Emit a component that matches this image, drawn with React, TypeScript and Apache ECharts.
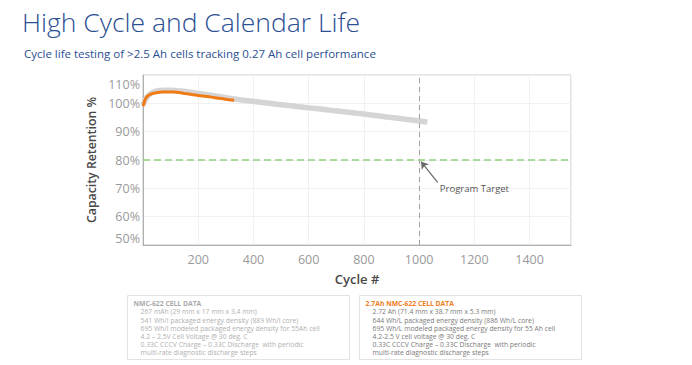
import React, { useEffect, useRef } from "react";
import * as echarts from "echarts";

const titleText = "High Cycle and Calendar Life";
const subtitleText = "Cycle life testing of >2.5 Ah cells tracking 0.27 Ah cell performance";

const grayCycles = [0, 10, 20, 30, 45, 60, 80, 100, 130, 160, 200, 250, 300, 350, 400, 450, 500, 550, 600, 650, 700, 750, 800, 850, 900, 950, 1000, 1030];
const grayValues = [99.5, 101.5, 102.8, 103.6, 104.2, 104.5, 104.6, 104.6, 104.4, 104.1, 103.5, 102.8, 102.0, 101.3, 100.7, 100.1, 99.5, 99.0, 98.4, 97.9, 97.3, 96.8, 96.2, 95.6, 95.0, 94.4, 93.8, 93.4];

const orangeCycles = [0, 5, 10, 20, 30, 40, 52, 70, 90, 110, 130, 150, 171, 200, 232, 260, 290, 310, 330];
const orangeValues = [99.0, 100.5, 101.8, 102.8, 103.3, 103.6, 103.8, 104.0, 104.0, 104.0, 103.8, 103.5, 103.2, 102.8, 102.4, 102.0, 101.6, 101.3, 101.1];

const targetCycle = 1000;
const targetRetention = 80;
const annotationText = "Program Target";

const box1Title = "NMC-622 CELL DATA";
const box1Lines = [
  "267 mAh (29 mm x 17 mm x 3.4 mm)",
  "541 Wh/l packaged energy density (889 Wh/l core)",
  "695 Wh/l modeled packaged energy density for 55Ah cell",
  "4.2 – 2.5V Cell Voltage @ 30 deg. C",
  "0.33C CCCV Charge – 0.33C Discharge  with periodic",
  "multi-rate diagnostic discharge steps",
];
const box2Title = "2.7Ah NMC-622 CELL DATA";
const box2Lines = [
  "2.72 Ah (71.4 mm x 38.7 mm x 5.3 mm)",
  "644 Wh/L packaged energy density (886 Wh/L core)",
  "695 Wh/L modeled packaged energy density for 55 Ah cell",
  "4.2-2.5 V cell voltage @ 30 deg. C",
  "0.33C CCCV Charge – 0.33C Discharge  with periodic",
  "multi-rate diagnostic discharge steps",
];

const FONT = "'Open Sans', sans-serif";

function boxGraphic(x: number, title: string, titleColor: string, lines: string[], lineColor: string) {
  const text = "{t|" + title + "}\n" + lines.map((l) => "{l|" + l + "}").join("\n");
  return {
    type: "group",
    left: x,
    top: 295,
    children: [
      {
        type: "rect",
        shape: { x: 0, y: 0, width: 222, height: 64 },
        style: { fill: "#fff", stroke: "#e2e2e2", lineWidth: 1 },
      },
      {
        type: "text",
        x: 6,
        y: 4,
        style: {
          text,
          fontFamily: FONT,
          rich: {
            t: { fontSize: 6.8, fontWeight: 700, fill: titleColor, lineHeight: 8.2, fontFamily: FONT },
            l: { fontSize: 6.8, fill: lineColor, lineHeight: 8.2, padding: [0, 0, 0, 7], fontFamily: FONT },
          },
        },
      },
    ],
  };
}

export default function App() {
  const ref = useRef<HTMLDivElement>(null);
  useEffect(() => {
    if (!ref.current) return;
    const chart = echarts.init(ref.current, undefined, { renderer: "svg" });
    const gray = grayCycles.map((c, i) => [c, grayValues[i]]);
    const orange = orangeCycles.map((c, i) => [c, orangeValues[i]]);
    chart.setOption({
      animation: false,
      backgroundColor: "#fff",
      title: [
        {
          text: titleText,
          left: 17,
          top: 3,
          textStyle: { fontFamily: FONT, fontSize: 26.5, fontWeight: 300, color: "#2b4f93" },
        },
        {
          text: subtitleText,
          left: 19,
          top: 42,
          textStyle: { fontFamily: FONT, fontSize: 11.5, fontWeight: 400, color: "#2b4f93" },
        },
      ],
      grid: {
        left: 143,
        right: 121,
        top: 75,
        bottom: 120,
        show: true,
        borderColor: "#c4c4c4",
        borderWidth: 1,
        backgroundColor: "#fff",
      },
      xAxis: {
        type: "value",
        min: 0,
        max: 1550,
        interval: 200,
        name: "Cycle #",
        nameLocation: "middle",
        nameGap: 27,
        nameTextStyle: { fontFamily: FONT, fontSize: 13, fontWeight: 600, color: "#484848" },
        axisLine: { show: true, lineStyle: { color: "#b0b0b0" } },
        axisTick: { show: false },
        splitLine: { show: true, lineStyle: { color: "#f1f1f1" } },
        axisLabel: {
          fontFamily: FONT,
          fontSize: 12.5,
          color: "#9a9a9a",
          margin: 8,
          showMinLabel: false,
          showMaxLabel: false,
          formatter: (v: number) => (v === 0 ? "" : String(v)),
        },
      },
      yAxis: {
        type: "value",
        min: 50,
        max: 110,
        interval: 10,
        name: "Capacity Retention %",
        nameLocation: "middle",
        nameGap: 40,
        nameTextStyle: { fontFamily: FONT, fontSize: 12.3, fontWeight: 600, color: "#484848" },
        axisLine: { show: true, lineStyle: { color: "#b0b0b0" } },
        axisTick: { show: false },
        splitLine: { show: true, lineStyle: { color: "#f1f1f1" } },
        axisLabel: {
          fontFamily: FONT,
          fontSize: 12.5,
          color: "#9a9a9a",
          margin: 3,
          formatter: (v: number) => (v === 110 ? "{t|110%}" : v === 50 ? "{b|50%}" : v + "%"),
          rich: {
            t: { fontFamily: FONT, fontSize: 12.5, color: "#9a9a9a", padding: [19, 0, 0, 0] },
            b: { fontFamily: FONT, fontSize: 12.5, color: "#9a9a9a", padding: [0, 0, 14, 0] },
          },
        },
      },
      series: [
        {
          type: "line",
          data: gray,
          showSymbol: false,
          smooth: true,
          lineStyle: { color: "#d5d5d5", width: 5.5 },
          z: 2,
          markLine: {
            silent: true,
            symbol: "none",
            label: { show: false },
            data: [
              { xAxis: targetCycle, lineStyle: { color: "#a0a0a0", type: [5, 4], width: 1 } },
              { yAxis: targetRetention, lineStyle: { color: "#8ed27e", type: [7, 4], width: 1.5 } },
            ],
          },
        },
        {
          type: "line",
          data: orange,
          showSymbol: false,
          smooth: true,
          lineStyle: { color: "#f07a16", width: 3 },
          z: 3,
          markLine: {
            silent: true,
            symbol: ["none", "arrow"],
            symbolSize: 7,
            label: { show: false },
            lineStyle: { color: "#666", type: "solid", width: 1.2 },
            data: [[{ coord: [1067, 72.1] }, { coord: [1007, 79.4] }]],
          },
          markPoint: {
            silent: true,
            symbol: "circle",
            symbolSize: 0,
            data: [
              {
                coord: [1075, 70],
                label: {
                  show: true,
                  position: "right",
                  distance: 0,
                  formatter: annotationText,
                  fontFamily: FONT,
                  fontSize: 9.5,
                  color: "#555",
                },
              },
            ],
          },
        },
      ],
      graphic: [
        boxGraphic(127, box1Title, "#a9a9a9", box1Lines, "#b0b0b0"),
        boxGraphic(359, box2Title, "#ef7d22", box2Lines, "#7a7a7a"),
      ],
    });
    return () => chart.dispose();
  }, []);
  return <div ref={ref} style={{ width: 692, height: 365, position: "absolute", left: 0, top: 0 }} />;
}
